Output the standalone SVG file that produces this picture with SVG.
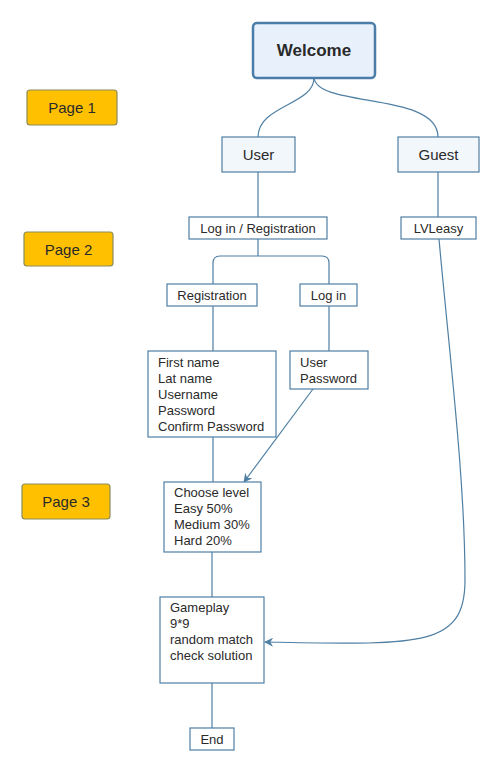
<svg xmlns="http://www.w3.org/2000/svg" width="500" height="771" viewBox="0 0 500 771">
<defs>
<style>
.box{fill:#ffffff;stroke:#4f7fa3;stroke-width:1.2}
.top{fill:#f2f7fc;stroke:#4f7fa3;stroke-width:1.2}
.page{fill:#ffc000;stroke:#8c8c5a;stroke-width:1.2}
.conn{fill:none;stroke:#4f7fa3;stroke-width:1.2}
text{font-family:"Liberation Sans",Arial,sans-serif;fill:#2a2a2a;font-size:13px}
.c{text-anchor:middle}
.big{font-size:15px}
</style>
<marker id="arr" viewBox="0 0 10 10" refX="9" refY="5" markerWidth="9" markerHeight="9" markerUnits="userSpaceOnUse" orient="auto">
<path d="M0,0 L10,5 L0,10 L3,5 z" fill="#4f7fa3"/>
</marker>
</defs>
<rect width="500" height="771" fill="#ffffff"/>
<g id="connectors">
<path class="conn" d="M314,78 C314,105 258,105 258,137"/>
<path class="conn" d="M314,78 C318,108 438,92 438,137"/>
<path class="conn" d="M258,172 V217"/>
<path class="conn" d="M438,172 V217"/>
<path class="conn" d="M258,239 V256"/>
<path class="conn" d="M213,284 V263 Q213,256 220,256 H322 Q329,256 329,263 V284"/>
<path class="conn" d="M213,306 V351"/>
<path class="conn" d="M329,306 V351"/>
<path class="conn" d="M213,437 V482"/>
<path class="conn" d="M313,389 L244,482" marker-end="url(#arr)"/>
<path class="conn" d="M212,552 V597"/>
<path class="conn" d="M212,683 V728"/>
<path class="conn" d="M439,239 C450,360 465,480 465,580 C465,648 420,645 265,642" marker-end="url(#arr)"/>
</g>
<g id="page1"><rect class="page" x="27" y="90" width="90" height="35" rx="3"/><text class="c big" x="72" y="113">Page 1</text></g>
<g id="page2"><rect class="page" x="24" y="232" width="89" height="34" rx="3"/><text class="c big" x="68.5" y="255">Page 2</text></g>
<g id="page3"><rect class="page" x="22" y="484" width="88" height="35" rx="3"/><text class="c big" x="66" y="507">Page 3</text></g>
<g id="welcome"><rect x="253" y="23" width="122" height="55" rx="4" fill="#e8f1fb" stroke="#4a7ea8" stroke-width="2.5"/><text class="c" x="314" y="56" style="font-size:17px;font-weight:bold">Welcome</text></g>
<g id="user"><rect class="top" x="222" y="137" width="73" height="35"/><text class="c big" x="258.5" y="160">User</text></g>
<g id="guest"><rect class="top" x="398" y="137" width="81" height="35"/><text class="c big" x="438.5" y="160">Guest</text></g>
<g id="login-registration"><rect class="box" x="189" y="217" width="138" height="22"/><text class="c" x="258" y="233">Log in / Registration</text></g>
<g id="lvleasy"><rect class="box" x="401" y="217" width="75" height="22"/><text class="c" x="438.5" y="233">LVLeasy</text></g>
<g id="registration"><rect class="box" x="167" y="284" width="90" height="22"/><text class="c" x="212" y="300">Registration</text></g>
<g id="login"><rect class="box" x="300" y="284" width="57" height="22"/><text class="c" x="328.5" y="300">Log in</text></g>
<g id="reg-fields"><rect class="box" x="148" y="351" width="128" height="86"/>
<text x="158" y="367">First name</text><text x="158" y="383">Lat name</text><text x="158" y="399">Username</text><text x="158" y="415">Password</text><text x="158" y="431">Confirm Password</text></g>
<g id="login-fields"><rect class="box" x="290" y="351" width="78" height="38"/>
<text x="300" y="367">User</text><text x="300" y="383">Password</text></g>
<g id="choose-level"><rect class="box" x="164" y="482" width="97" height="70"/>
<text x="174" y="497">Choose level</text><text x="174" y="513">Easy 50%</text><text x="174" y="529">Medium 30%</text><text x="174" y="545">Hard 20%</text></g>
<g id="gameplay"><rect class="box" x="160" y="597" width="104" height="86"/>
<text x="170" y="612">Gameplay</text><text x="170" y="628">9*9</text><text x="170" y="644">random match</text><text x="170" y="660">check solution</text></g>
<g id="end"><rect class="box" x="190" y="728" width="44" height="22"/><text class="c" x="212" y="744">End</text></g>
</svg>
